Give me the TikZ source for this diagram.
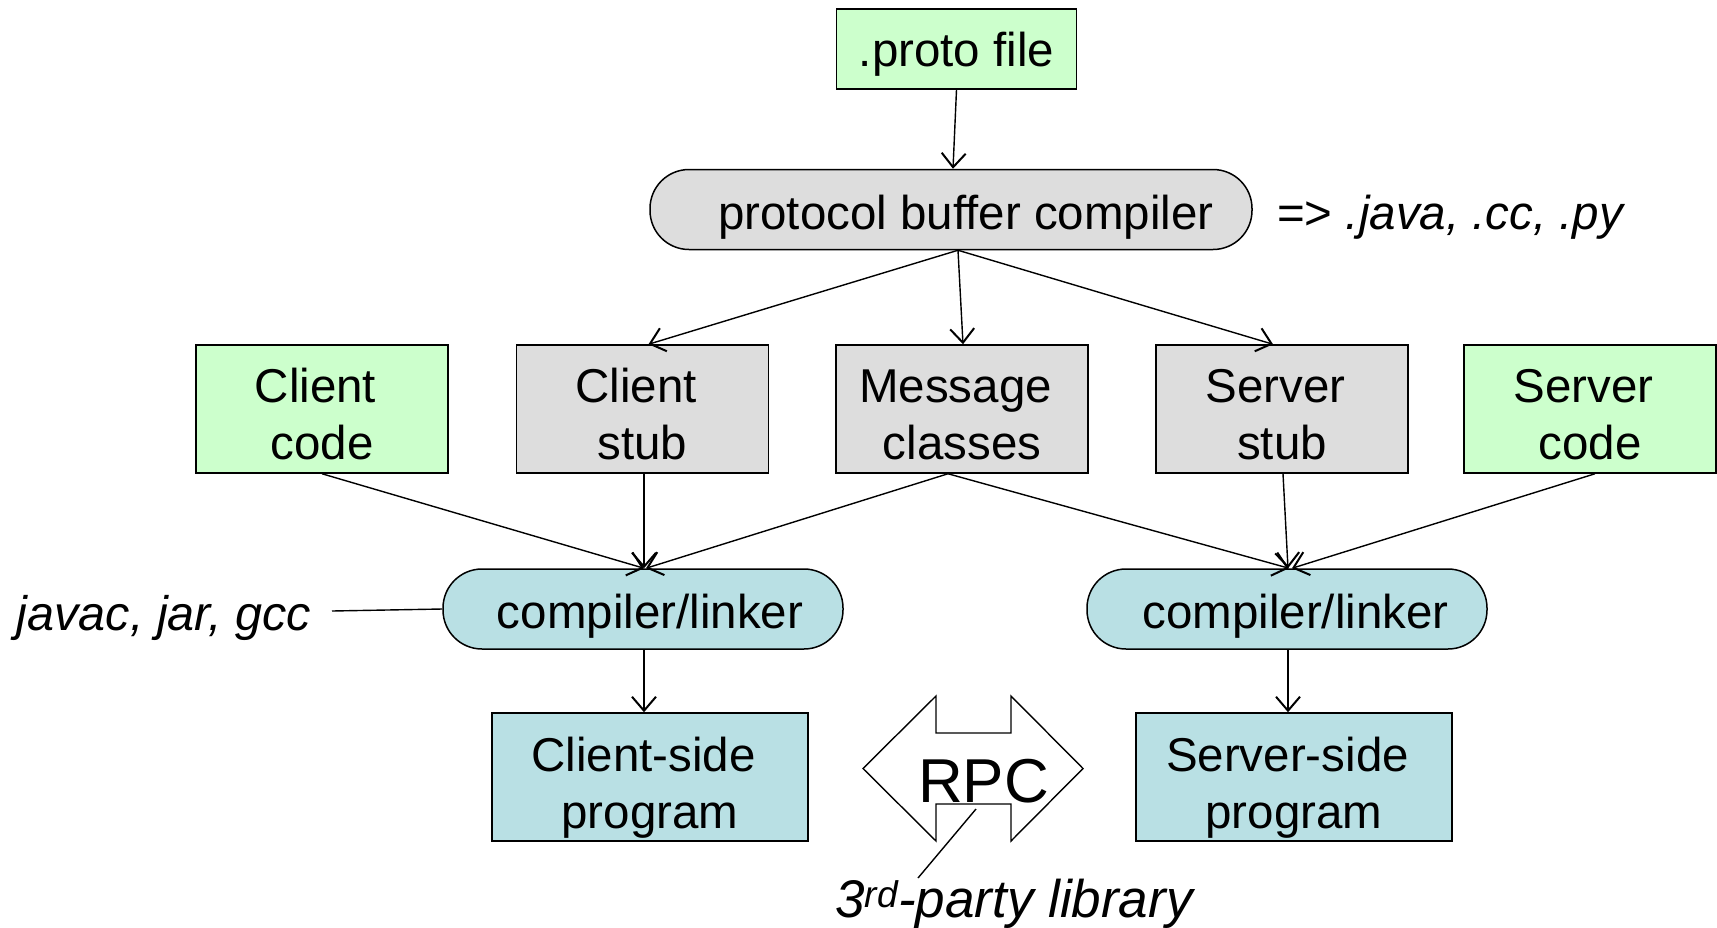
\documentclass[tikz,border=0pt]{standalone}
\usepackage{fontspec}
\setmainfont{Liberation Sans}
\usetikzlibrary{arrows.meta}

\definecolor{srcgreen}{RGB}{204,255,204}
\definecolor{gengray}{RGB}{221,221,221}
\definecolor{toolblue}{RGB}{185,224,228}

\begin{document}
\begin{tikzpicture}[x=1pt,y=-1pt,
  every node/.style={font=\fontsize{47.5}{57}\selectfont, inner sep=0pt},
  every label/.style={align=center, inner sep=0pt},
  box/.style={draw, line width=1.5pt, align=center},
  srcbox/.style={box, fill=srcgreen},
  genbox/.style={box, fill=gengray, minimum width=252pt, minimum height=128pt},
  toolpill/.style={box, rounded corners=39pt, minimum height=80pt},
  progbox/.style={box, fill=toolblue, minimum width=316pt, minimum height=128pt},
  % box text set a little below the geometric centre
  txt/.style 2 args={label={[yshift=-#1]center:#2}},
  flow/.style={line width=1.4pt, -{Straight Barb[length=14pt,width=24pt,line width=2pt]}},
  plain/.style={line width=1.4pt}]

\useasboundingbox (0,0) rectangle (1717,927);

% sources and generated artefacts
\node[srcbox, minimum width=240pt, minimum height=80pt, txt={5.5pt}{.proto file}] (proto) at (956.5,49) {};
\node[toolpill, fill=gengray, minimum width=602pt,
      txt={7.5pt}{\hspace*{30pt}protocol buffer compiler}] (pbc) at (951,209.5) {};
\node[anchor=base west] (langs) at (1277,229) {=> \textit{.java, .cc, .py}};

\node[srcbox, minimum width=252pt, minimum height=128pt,
      txt={5.5pt}{Client\hspace*{13pt}\\code}] (ccode) at (322,409) {};
\node[genbox, txt={5.5pt}{Client\hspace*{13pt}\\stub}] (cstub) at (642.5,409) {};
\node[genbox, txt={5.5pt}{Message\hspace*{13pt}\\classes}] (msg) at (962,409) {};
\node[genbox, txt={5.5pt}{Server\hspace*{13pt}\\stub}] (sstub) at (1282,409) {};
\node[srcbox, minimum width=252pt, minimum height=128pt,
      txt={5.5pt}{Server\hspace*{13pt}\\code}] (scode) at (1590,409) {};

% build tools
\node[toolpill, fill=toolblue, minimum width=400pt,
      txt={7.5pt}{\hspace*{14pt}compiler/linker}] (ll) at (643,609) {};
\node[toolpill, fill=toolblue, minimum width=400pt,
      txt={7.5pt}{\hspace*{17pt}compiler/linker}] (rl) at (1287,609) {};
\node[anchor=base east, font=\fontsize{48.5}{58}\selectfont] (javac) at (311,630) {\textit{javac, jar, gcc}};
\coordinate (jl) at (332,611);

% resulting programs
\node[progbox, txt={11pt}{Client-side\hspace*{13pt}\\program}] (cprog) at (650,777) {};
\node[progbox, txt={11pt}{Server-side\hspace*{13pt}\\program}] (sprog) at (1294,777) {};

% RPC double arrow
\draw[line width=1.4pt, fill=white]
  (863,768.5) -- (936,696) -- (936,733) -- (1011,733) -- (1011,696) -- (1083,768.5)
  -- (1011,841) -- (1011,804) -- (936,804) -- (936,841) -- cycle;
\node[anchor=base, font=\fontsize{62}{70}\selectfont] (rpc) at (983.5,802) {RPC};
\node[anchor=base west, font=\fontsize{53}{60}\selectfont] (lib) at (835,917) {\textit{3\textsuperscript{rd}-party library}};
\coordinate (rpcin) at (976,809);
\coordinate (libtop) at (918,878);
\draw[plain] (rpcin) -- (libtop);

% connectors
\draw[flow] (proto.south) -- ([xshift=2pt]pbc.north);
\draw[flow] ([xshift=7pt]pbc.south) -- ([xshift=6pt]cstub.north);
\draw[flow] ([xshift=7pt]pbc.south) -- ([xshift=1pt]msg.north);
\draw[flow] ([xshift=7pt]pbc.south) -- ([xshift=-9pt]sstub.north);

\draw[flow] (ccode.south) -- ([xshift=1pt]ll.north);
\draw[flow] ([xshift=1.5pt]cstub.south) -- ([xshift=1pt]ll.north);
\draw[flow] ([xshift=-14pt]msg.south) -- ([xshift=3pt]ll.north);
\draw[flow] ([xshift=-14pt]msg.south) -- ([xshift=2pt]rl.north);
\draw[flow] ([xshift=1pt]sstub.south) -- ([xshift=1pt]rl.north);
\draw[flow] ([xshift=5pt]scode.south) -- ([xshift=5pt]rl.north);

\draw[plain] (jl) -- (ll.west);

\draw[flow] ([xshift=1pt]ll.south) -- ([xshift=1pt]ll.south |- cprog.north);
\draw[flow] ([xshift=1pt]rl.south) -- ([xshift=1pt]rl.south |- sprog.north);
\end{tikzpicture}
\end{document}
